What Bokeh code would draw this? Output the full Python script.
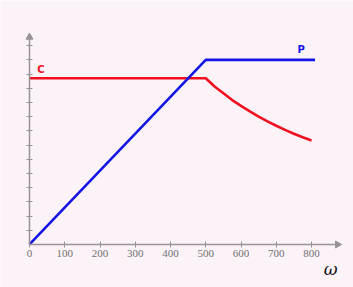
import math
from bokeh.plotting import figure
from bokeh.models import Range1d, Label, FixedTicker
from bokeh.embed import file_html
from bokeh.resources import INLINE

# data
omega_p = [0, 500, 810]
power = [0, 13, 13]
omega_c = [0, 500, 525, 550, 575, 600, 625, 650, 675, 700, 725, 750, 775, 800]
torque = [11.7, 11.7, 11.12, 10.65, 10.17, 9.76, 9.37, 9.0, 8.67, 8.36, 8.07,
          7.8, 7.55, 7.32]
x_ticks = [0, 100, 200, 300, 400, 500, 600, 700, 800]
y_ticks = list(range(1, 15))

BG = "#fcf3f8"
AX = "#9a9098"

p = figure(width=353, height=287, output_backend="svg", toolbar_location=None,
           x_range=Range1d(-82.3, 919.1), y_range=Range1d(-3.03, 17.18),
           min_border=0, background_fill_color=BG, border_fill_color=BG,
           outline_line_color=None)
p.grid.visible = False

for ax in (p.xaxis[0], p.yaxis[0]):
    ax.fixed_location = 0
    ax.axis_line_color = AX
    ax.axis_line_width = 1.5
    ax.major_tick_line_color = AX
    ax.major_tick_in = 3
    ax.major_tick_out = 3
    ax.minor_tick_line_color = None

p.xaxis.bounds = (0, 868)
p.xaxis.ticker = FixedTicker(ticks=x_ticks)
p.xaxis.major_label_text_font = "Liberation Serif"
p.xaxis.major_label_text_font_size = "11px"
p.xaxis.major_label_text_color = "#707070"
p.xaxis.major_label_standoff = 3

p.yaxis.bounds = (0, 14.5)
p.yaxis.ticker = FixedTicker(ticks=y_ticks)
p.yaxis.major_label_text_color = None
p.yaxis.major_label_text_font_size = "0px"

# arrow heads
p.scatter([874], [0], marker="triangle", size=7, angle=-math.pi / 2,
          color=AX)
p.scatter([0], [14.6], marker="triangle", size=7, color=AX)

p.line(omega_c, torque, line_color="#f01020", line_width=2.6)
p.line(omega_p, power, line_color="#1414e6", line_width=2.6)

p.add_layout(Label(x=22, y=11.95, text="C", text_color="#f01020",
                   text_font="DejaVu Sans", text_font_style="bold",
                   text_font_size="10px"))
p.add_layout(Label(x=760, y=13.35, text="P", text_color="#1414e6",
                   text_font="DejaVu Sans", text_font_style="bold",
                   text_font_size="10px"))
p.add_layout(Label(x=835, y=-2.45, text="ω", text_color="#111111",
                   text_font="DejaVu Serif", text_font_style="italic",
                   text_font_size="17px"))

open("out.html", "w").write(file_html(p, INLINE))
